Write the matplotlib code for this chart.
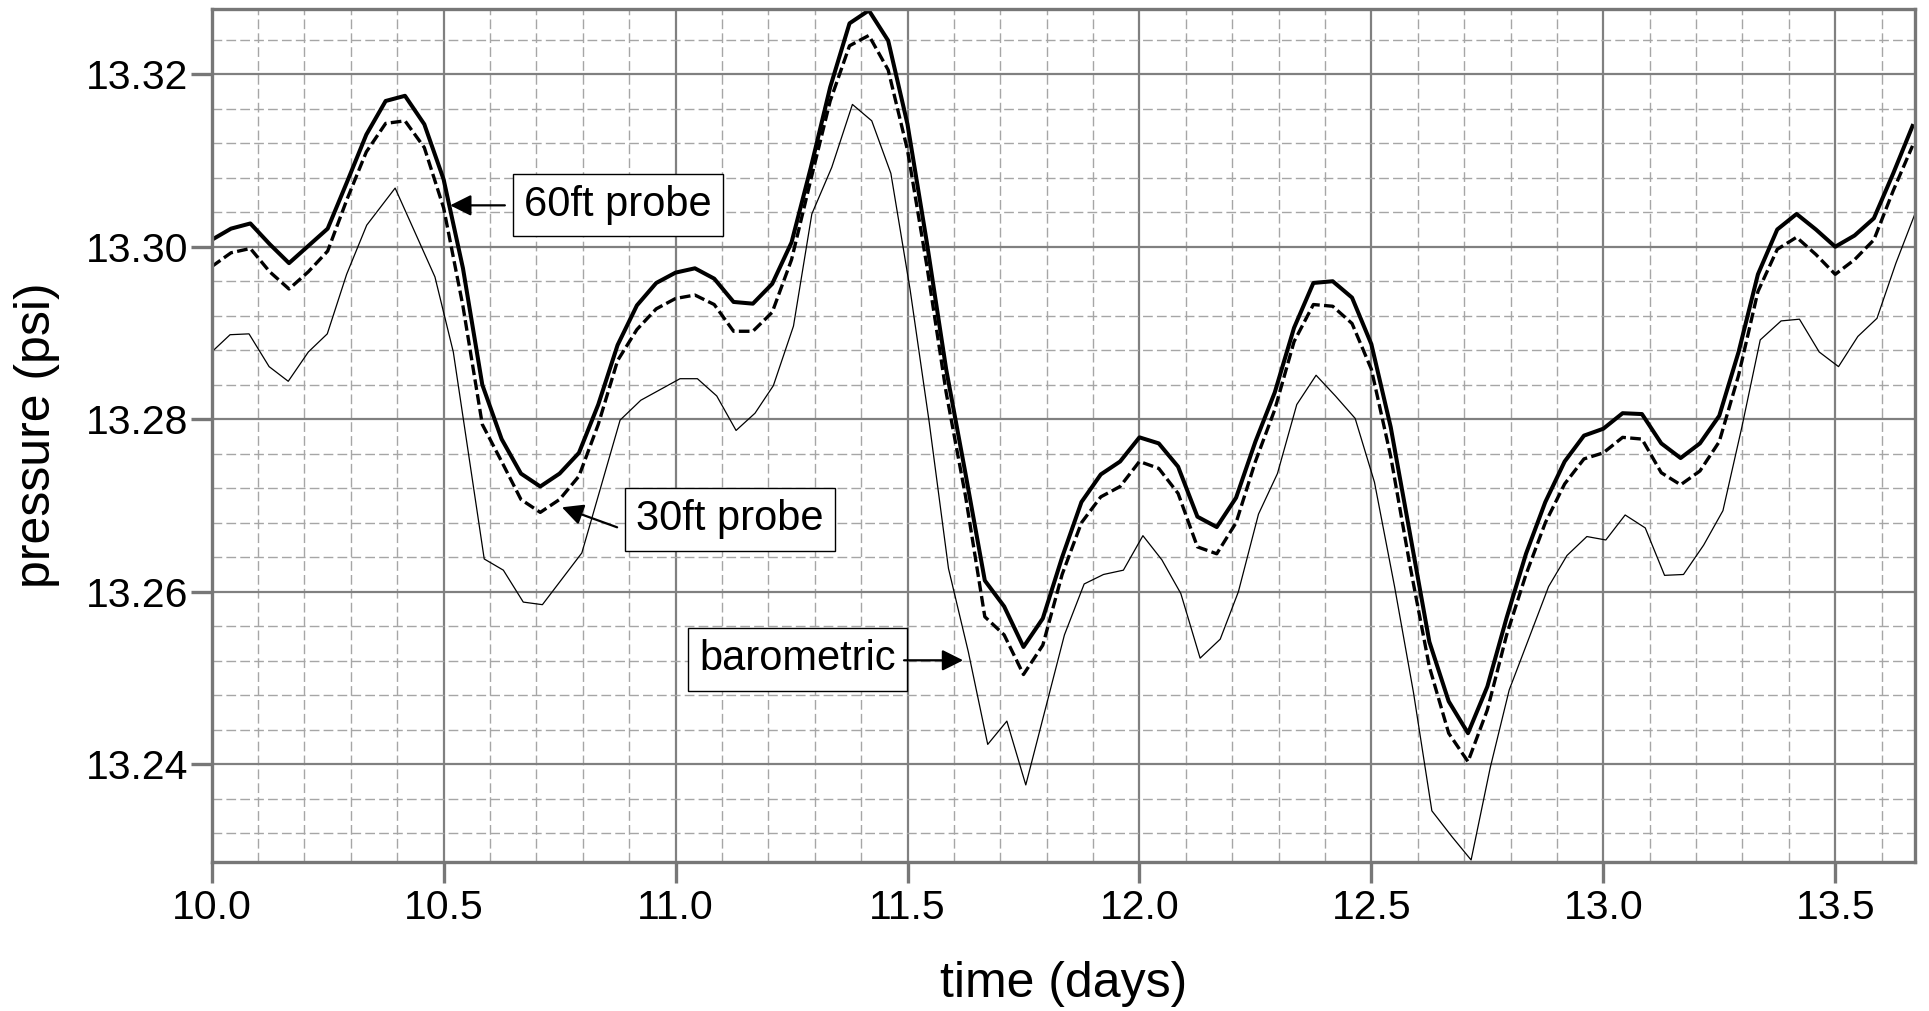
import matplotlib
matplotlib.use("Agg")
import matplotlib.pyplot as plt
from matplotlib.ticker import MultipleLocator, FormatStrFormatter
import numpy as np

# hourly readings of the two probes, starting at day 10.0
probe_hours = np.arange(89)
probe60 = [13.3008, 13.3021, 13.3027, 13.3003, 13.2981, 13.3001, 13.3021, 13.3075, 13.3130, 13.3169,
           13.3175, 13.3142, 13.3078, 13.2975, 13.2840, 13.2777, 13.2737, 13.2722, 13.2737, 13.2761,
           13.2817, 13.2886, 13.2932, 13.2958, 13.2970, 13.2975, 13.2963, 13.2936, 13.2934, 13.2957,
           13.3005, 13.3092, 13.3185, 13.3259, 13.3274, 13.3239, 13.3142, 13.3005, 13.2858, 13.2737,
           13.2613, 13.2583, 13.2536, 13.2569, 13.2640, 13.2704, 13.2736, 13.2751, 13.2779, 13.2772,
           13.2745, 13.2687, 13.2675, 13.2709, 13.2774, 13.2831, 13.2906, 13.2958, 13.2960, 13.2941,
           13.2887, 13.2791, 13.2667, 13.2542, 13.2473, 13.2436, 13.2490, 13.2570, 13.2644, 13.2704,
           13.2751, 13.2781, 13.2789, 13.2807, 13.2806, 13.2772, 13.2755, 13.2772, 13.2804, 13.2878,
           13.2968, 13.3020, 13.3038, 13.3020, 13.3000, 13.3013, 13.3033, 13.3085, 13.3140]
probe30 = [13.2977, 13.2993, 13.2998, 13.2971, 13.2951, 13.2971, 13.2995, 13.3055, 13.3110, 13.3143,
           13.3146, 13.3115, 13.3045, 13.2931, 13.2794, 13.2751, 13.2707, 13.2692, 13.2707, 13.2734,
           13.2794, 13.2868, 13.2904, 13.2928, 13.2940, 13.2944, 13.2933, 13.2902, 13.2902, 13.2924,
           13.2985, 13.3078, 13.3169, 13.3233, 13.3245, 13.3205, 13.3112, 13.2978, 13.2831, 13.2711,
           13.2571, 13.2550, 13.2504, 13.2538, 13.2620, 13.2680, 13.2710, 13.2722, 13.2751, 13.2743,
           13.2714, 13.2652, 13.2644, 13.2680, 13.2751, 13.2811, 13.2890, 13.2933, 13.2931, 13.2911,
           13.2858, 13.2757, 13.2630, 13.2513, 13.2436, 13.2403, 13.2463, 13.2550, 13.2620, 13.2680,
           13.2725, 13.2754, 13.2761, 13.2779, 13.2777, 13.2738, 13.2724, 13.2740, 13.2774, 13.2851,
           13.2948, 13.2997, 13.3011, 13.2991, 13.2968, 13.2985, 13.3008, 13.3065, 13.3117]

# barometer readings (hours after day 10.0)
baro_hours = [0, 0.95, 1.93, 2.97, 3.96, 5.0, 5.98, 6.98, 8.02, 9.49,
              11.55, 12.5, 14.1, 15.09, 16.12, 17.11, 19.15, 21.13, 22.2, 24.23,
              25.13, 26.13, 27.13, 28.11, 29.06, 30.1, 31.05, 32.08, 33.15, 34.15,
              35.14, 36.13, 37.12, 38.12, 39.15, 40.15, 41.14, 42.12, 43.12, 44.12,
              45.14, 46.14, 47.17, 48.18, 49.16, 50.14, 51.14, 52.18, 53.12, 54.16,
              55.14, 56.14, 57.14, 58.14, 59.16, 60.16, 61.2, 62.18, 63.13, 64.17,
              65.16, 66.15, 67.13, 68.1, 69.17, 70.12, 71.15, 72.13, 73.13, 74.17,
              75.17, 76.15, 77.19, 78.19, 79.17, 80.12, 81.2, 82.15, 83.17, 84.17,
              85.17, 86.16, 87.14, 88.14]
baro = [13.2878, 13.2898, 13.2899, 13.2861, 13.2844, 13.2878, 13.2899, 13.2968, 13.3025, 13.3068,
        13.2965, 13.2878, 13.2638, 13.2625, 13.2588, 13.2585, 13.2645, 13.2799, 13.2822, 13.2847,
        13.2847, 13.2827, 13.2787, 13.2807, 13.2839, 13.2908, 13.3038, 13.3092, 13.3165, 13.3146,
        13.3085, 13.2951, 13.2797, 13.2627, 13.2530, 13.2423, 13.2450, 13.2376, 13.2463, 13.2550,
        13.2609, 13.2620, 13.2625, 13.2665, 13.2637, 13.2598, 13.2523, 13.2545, 13.2600, 13.2690,
        13.2737, 13.2817, 13.2851, 13.2827, 13.2801, 13.2727, 13.2606, 13.2483, 13.2346, 13.2316,
        13.2289, 13.2396, 13.2486, 13.2543, 13.2606, 13.2642, 13.2664, 13.2660, 13.2689, 13.2674,
        13.2619, 13.2620, 13.2654, 13.2694, 13.2791, 13.2892, 13.2914, 13.2916, 13.2878, 13.2861,
        13.2896, 13.2917, 13.2981, 13.3039]


def main():
    plt.rcParams['font.family'] = ['Liberation Sans', 'DejaVu Sans']

    t_probe = 10 + probe_hours / 24.0
    t_baro = 10 + np.array(baro_hours) / 24.0

    fig = plt.figure(figsize=(19.29, 10.11), dpi=100)
    ax = fig.add_axes([0.10975, 0.14768, 0.88300, 0.84372])

    ax.plot(t_baro, baro, color='black', lw=0.9, zorder=3)
    ax.plot(t_probe, probe30, color='black', lw=2.4, dashes=(3.2, 1.3), zorder=4)
    ax.plot(t_probe, probe60, color='black', lw=2.9, zorder=5)

    ax.set_xlim(10.0, 13.672)
    ax.set_ylim(13.2287, 13.3276)

    ax.xaxis.set_major_locator(MultipleLocator(0.5))
    ax.xaxis.set_minor_locator(MultipleLocator(0.1))
    ax.yaxis.set_major_locator(MultipleLocator(0.02))
    ax.yaxis.set_minor_locator(MultipleLocator(0.004))
    ax.xaxis.set_major_formatter(FormatStrFormatter('%.1f'))
    ax.yaxis.set_major_formatter(FormatStrFormatter('%.2f'))

    ax.grid(which='major', color='#808080', lw=1.6, ls='-', zorder=1)
    ax.grid(which='minor', color='#a6a6a6', lw=1.0, dashes=(7, 3), zorder=1)
    ax.set_axisbelow(True)

    for s in ax.spines.values():
        s.set_color('#777777')
        s.set_linewidth(2.4)
        s.set_zorder(6)

    ax.tick_params(which='major', direction='out', length=15, width=2.4, color='#777777',
                   labelsize=29.5, labelcolor='black')
    ax.tick_params(axis='x', which='major', pad=5)
    ax.tick_params(axis='y', which='major', pad=2)
    ax.tick_params(which='minor', length=0)

    ax.set_xlabel('time (days)', fontsize=36)
    ax.set_ylabel('pressure (psi)', fontsize=36)
    ax.xaxis.set_label_coords(0.5, -0.117)
    ax.yaxis.set_label_coords(-0.089, 0.5)

    # labels with arrows
    box = dict(boxstyle='square,pad=0.27', facecolor='white', edgecolor='black', lw=1.0)
    arrow = dict(arrowstyle='-|>,head_length=0.4,head_width=0.2', mutation_scale=32,
                 color='black', lw=1.6, shrinkA=0, shrinkB=0)

    ax.text(10.875, 13.30486, '60ft probe', fontsize=30, ha='center', va='center', bbox=box, zorder=7)
    ax.annotate('', xy=(10.514, 13.3048), xytext=(10.632, 13.3048), arrowprops=arrow, zorder=7)

    ax.text(11.1175, 13.2684, '30ft probe', fontsize=30, ha='center', va='center', bbox=box, zorder=7)
    ax.annotate('', xy=(10.755, 13.26979), xytext=(10.874, 13.26747), arrowprops=arrow, zorder=7)

    ax.text(11.263, 13.25217, 'barometric', fontsize=30, ha='center', va='center', bbox=box, zorder=7)
    ax.annotate('', xy=(11.620, 13.25205), xytext=(11.4925, 13.25205), arrowprops=arrow, zorder=7)

    plt.savefig("out.png", dpi=100)


if __name__ == "__main__":
    main()
